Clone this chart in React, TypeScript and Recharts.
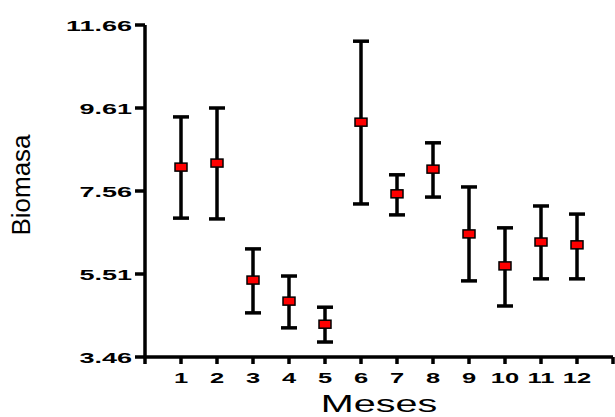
import { ErrorBar, Label, Scatter, ScatterChart, XAxis, YAxis } from "recharts";

const MONTHS = [1, 2, 3, 4, 5, 6, 7, 8, 9, 10, 11, 12];
const MEANS = [8.15, 8.25, 5.36, 4.84, 4.27, 9.26, 7.49, 8.1, 6.5, 5.71, 6.3, 6.23];
const LOWS = [6.89, 6.87, 4.55, 4.18, 3.83, 7.24, 6.97, 7.41, 5.34, 4.72, 5.39, 5.39];
const HIGHS = [9.39, 9.61, 6.13, 5.46, 4.69, 11.26, 7.96, 8.75, 7.66, 6.65, 7.19, 6.99];

const Y_TICKS = [3.46, 5.51, 7.56, 9.61, 11.66];
const X_TICKS = [0, 1, 2, 3, 4, 5, 6, 7, 8, 9, 10, 11, 12, 13];

const data = MONTHS.map((m, i) => ({
  mes: m,
  biomasa: MEANS[i],
  err: [MEANS[i] - LOWS[i], HIGHS[i] - MEANS[i]],
}));

const FONT = "'Liberation Sans', Arial, sans-serif";
const STRETCH = 1.8;
const AXIS_STROKE = 3.5;

function YTick({ x, y, payload }: any) {
  return (
    <text
      transform={`translate(${x}, ${y + 5.5}) scale(${STRETCH}, 1)`}
      textAnchor="end"
      fontFamily={FONT}
      fontWeight={700}
      fontSize={15}
      fill="#000"
    >
      {Number(payload.value).toFixed(2)}
    </text>
  );
}

function XTick({ x, y, payload }: any) {
  if (payload.value < 1 || payload.value > 12) return null;
  return (
    <text
      transform={`translate(${x}, ${y + 17}) scale(1.7, 1)`}
      textAnchor="middle"
      fontFamily={FONT}
      fontWeight={700}
      fontSize={15}
      fill="#000"
    >
      {payload.value}
    </text>
  );
}

function Marker({ cx, cy }: any) {
  return (
    <rect
      x={cx - 6}
      y={cy - 4}
      width={12}
      height={8}
      fill="#ff0000"
      stroke="#000"
      strokeWidth={1.5}
    />
  );
}

export default function App() {
  return (
    <div style={{ position: "absolute", left: 0, top: 0, background: "#fff" }}>
      <ScatterChart
        width={615}
        height={417}
        margin={{ top: 25, right: 2, left: 0, bottom: 0 }}
      >
        <XAxis
          type="number"
          dataKey="mes"
          domain={[0, 13]}
          ticks={X_TICKS}
          interval={0}
          height={60}
          tickSize={7}
          tickMargin={2}
          stroke="#000"
          strokeWidth={AXIS_STROKE}
          tick={<XTick />}
        >
          <Label
            content={() => (
              <text
                transform="translate(379, 412) scale(1.72, 1)"
                textAnchor="middle"
                fontFamily={FONT}
                fontSize={23}
                fill="#000"
              >
                Meses
              </text>
            )}
          />
        </XAxis>
        <YAxis
          type="number"
          dataKey="biomasa"
          domain={[3.46, 11.66]}
          ticks={Y_TICKS}
          interval={0}
          width={145}
          tickSize={10}
          tickMargin={3}
          stroke="#000"
          strokeWidth={AXIS_STROKE}
          tick={<YTick />}
        >
          <Label
            content={() => (
              <text
                x={30}
                y={185}
                transform="rotate(-90 30 185)"
                textAnchor="middle"
                fontFamily={FONT}
                fontSize={26}
                fill="#000"
              >
                Biomasa
              </text>
            )}
          />
        </YAxis>
        <Scatter data={data} shape={<Marker />} isAnimationActive={false}>
          <ErrorBar
            dataKey="err"
            direction="y"
            width={8}
            stroke="#000"
            strokeWidth={3.5}
            isAnimationActive={false}
          />
        </Scatter>
      </ScatterChart>
    </div>
  );
}
